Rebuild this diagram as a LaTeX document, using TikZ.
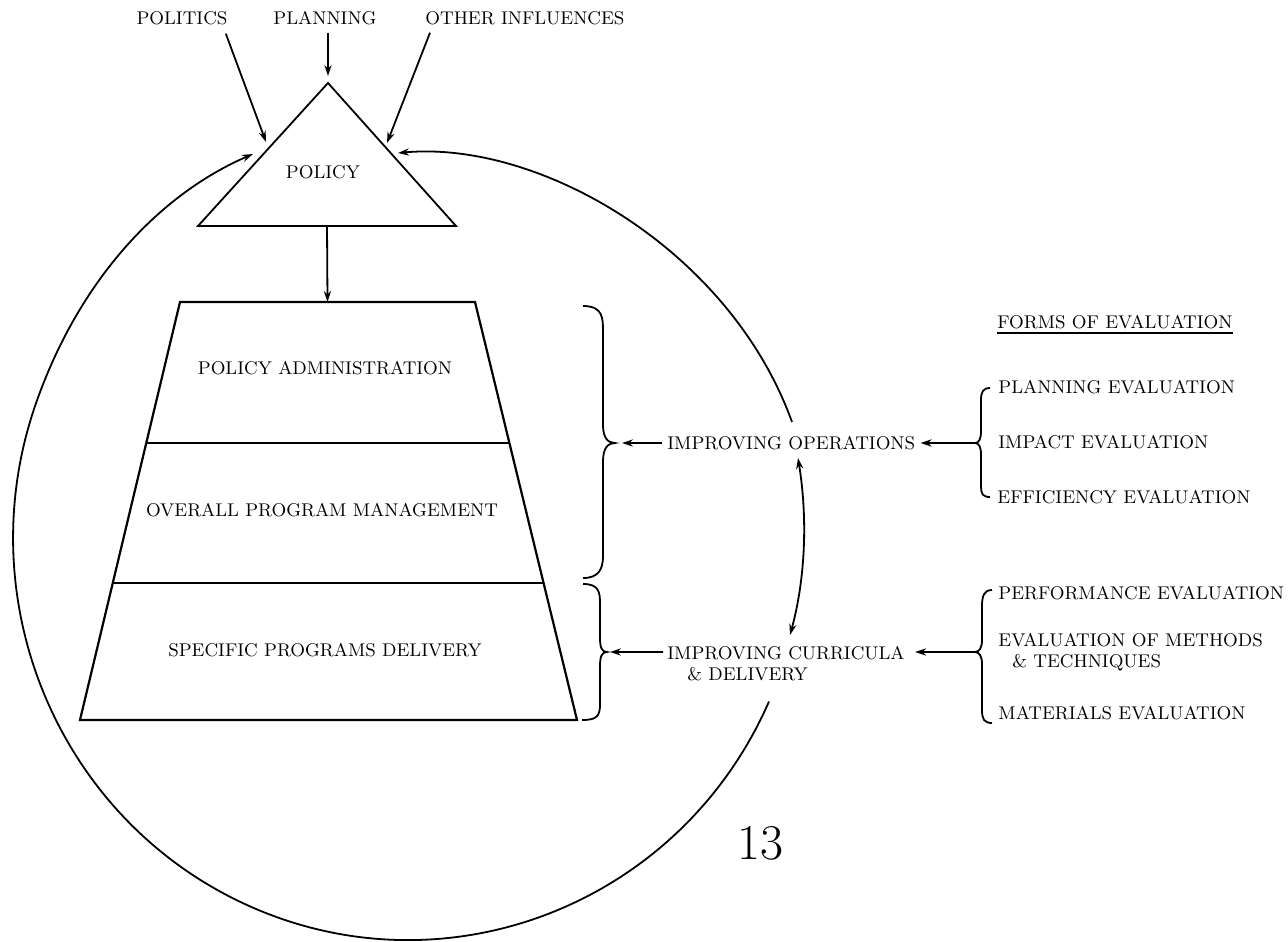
\documentclass[tikz,border=0pt]{standalone}
\usetikzlibrary{arrows.meta,calc}
\begin{document}
\begin{tikzpicture}[x=0.5pt,y=-0.5pt,
  lab/.style={inner sep=0pt, font=\fontsize{9.2}{10.5}\selectfont, text height=6.3pt, text depth=0pt},
  labm/.style={inner sep=0pt, font=\fontsize{9.2}{10.5}\selectfont, align=left, anchor=north west},
  ln/.style={line width=0.9pt},
  arr/.style={ln,-{Stealth[length=5.5pt,width=3.6pt]}},
  darr/.style={ln,{Stealth[length=5.5pt,width=3.6pt]}-{Stealth[length=5.5pt,width=3.6pt]}}]
\useasboundingbox (0,0) rectangle (1288,941);

% top influences
\node[lab] (politics) at (182,18) {POLITICS};
\node[lab] (planning) at (325,18) {PLANNING};
\node[lab,anchor=west] (other) at (425,18) {OTHER INFLUENCES};

% policy triangle
\coordinate (apex) at (328,83);
\coordinate (tl) at (198,226);
\coordinate (tr) at (456,226);
\draw[ln] (apex) -- (tr) -- (tl) -- cycle;
\node[lab] (policy) at (323,172) {POLICY};
\coordinate (polin) at (266,142);
\coordinate (othin) at (387,143);
\draw[arr] ($(politics.south east)+(-2,9)$) -- (polin);
\draw[arr,shorten >=3.5pt] ($(planning.south -| apex)+(0,8)$) -- (apex);
\draw[arr] ($(other.south west)+(5,8)$) -- (othin);

% trapezoid
\coordinate (A) at (180,302);
\coordinate (B) at (475,302);
\coordinate (C) at (577,720);
\coordinate (D) at (80,720);
\draw[line width=1.1pt] (A) -- (B) -- (C) -- (D) -- cycle;
\draw[line width=1.1pt] ($(A)!0.337!(D)$) -- ($(B)!0.337!(C)$);
\draw[line width=1.1pt] ($(A)!0.672!(D)$) -- ($(B)!0.672!(C)$);
\draw[arr] ($(tl)!0.5!(tr)$) -- ($(A)!0.5!(B)$);
\node[lab] (padm) at (325,368) {POLICY ADMINISTRATION};
\node[lab] (opm) at (322,510) {OVERALL PROGRAM MANAGEMENT};
\node[lab] (spd) at (325,650) {SPECIFIC PROGRAMS DELIVERY};

% braces next to trapezoid
\coordinate (b1tip) at (615,443);
\coordinate (b2tip) at (607,652);
\draw[ln] (583,306) .. controls (603,306) and (603,318) .. (603,332) -- (603,425) .. controls (603,438) and (608,443) .. (b1tip) .. controls (608,443) and (603,448) .. (603,461) -- (603,556) .. controls (603,570) and (598,578) .. (583,578);
\draw[ln] (583,584) .. controls (599,584) and (600,592) .. (600,604) -- (600,638) .. controls (600,648) and (602,652) .. (b2tip) .. controls (602,652) and (600,656) .. (600,666) -- (600,704) .. controls (600,716) and (597,720) .. (582,720);

% improving labels
\node[lab,anchor=west] (ops) at (667,443) {IMPROVING OPERATIONS};
\node[labm] (cur) at (667,645.7) {IMPROVING CURRICULA\\\hspace*{10pt}\& DELIVERY};
\coordinate (curL) at ($(cur.north west)+(-4,6.3)$);
\coordinate (curR) at ($(cur.north east)+(10,6.3)$);
\draw[arr,shorten <=2.5pt,shorten >=3.5pt] (ops.west) -- (b1tip);
\draw[arr,shorten >=1.5pt] (curL) -- (b2tip);

% right braces
\coordinate (r1tip) at (975,443);
\coordinate (r2tip) at (975,652);
\draw[ln] (990,388) .. controls (983,388) and (981,392) .. (981,400) -- (981,431) .. controls (981,439) and (979,443) .. (r1tip) .. controls (979,443) and (981,447) .. (981,455) -- (981,487) .. controls (981,494) and (983,497) .. (990,497);
\draw[ln] (992,590) .. controls (984,590) and (982,596) .. (982,606) -- (982,640) .. controls (982,648) and (979,652) .. (r2tip) .. controls (979,652) and (982,656) .. (982,664) -- (982,710) .. controls (982,719) and (984,723) .. (992,723);
\draw[arr,shorten >=2.5pt] (r1tip) -- (ops.east);
\draw[arr] (r2tip) -- (curR);

% forms of evaluation
\node[lab,anchor=west] (forms) at (997,322) {FORMS OF EVALUATION};
\draw[line width=0.8pt] ($(forms.south west)+(0,4)$) -- ($(forms.south east)+(0,4)$);
\node[lab,anchor=west] (plan) at (998,387) {PLANNING EVALUATION};
\node[lab,anchor=west] (impact) at (998,442) {IMPACT EVALUATION};
\node[lab,anchor=west] (eff) at (997,497) {EFFICIENCY EVALUATION};
\node[lab,anchor=west] (perf) at (998,593) {PERFORMANCE EVALUATION};
\node[labm] (meth) at (998,632.7) {EVALUATION OF METHODS\\\hspace*{7pt}\& TECHNIQUES};
\node[lab,anchor=west] (mat) at (998,713) {MATERIALS EVALUATION};

% feedback circle
\coordinate (arcA0) at (792,422);
\coordinate (arcAtip) at (398,153);
\draw[arr] (arcA0) .. controls (730,250) and (540,140) .. (arcAtip);
\coordinate (arcB0) at (798,458);
\coordinate (arcB1) at (790,635);
\draw[darr] (arcB0) .. controls (808,520) and (805,580) .. (arcB1);
\coordinate (arcC0) at (769,701.5);
\coordinate (arcCtip) at (253,154);
\draw[arr] (arcC0) arc[start angle=24, end angle=200, x radius=395, y radius=402]
  .. controls (80.7,277.5) and (161,193.7) .. (arcCtip);

% page number
\node[inner sep=0pt,font=\fontsize{25}{25}\selectfont] (pg) at (760,843) {13};
\end{tikzpicture}
\end{document}
